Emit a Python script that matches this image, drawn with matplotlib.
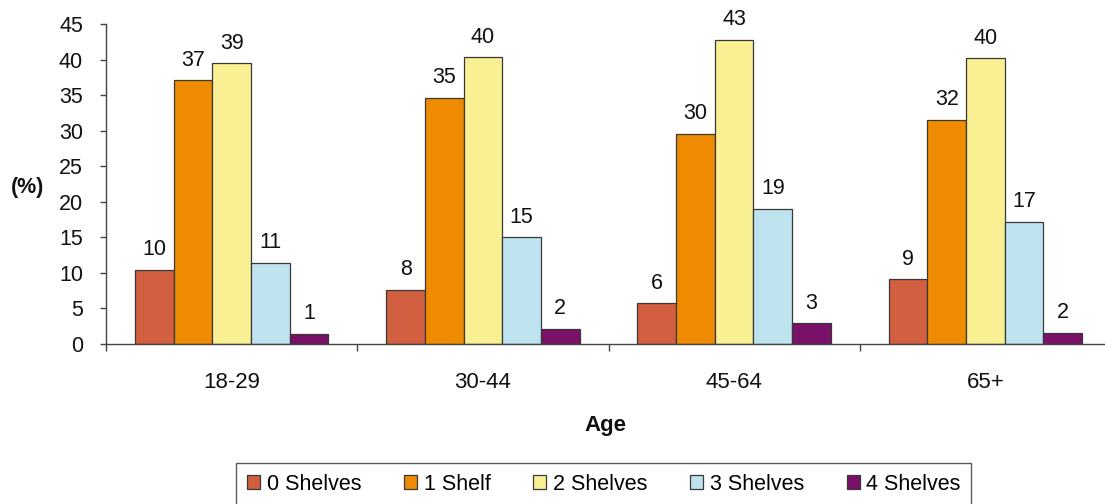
import matplotlib
matplotlib.use("Agg")
import matplotlib.pyplot as plt
import numpy as np

plt.rcParams['font.family'] = ['Liberation Sans', 'DejaVu Sans']

age_groups = ["18-29", "30-44", "45-64", "65+"]
series_names = ["0 Shelves", "1 Shelf", "2 Shelves", "3 Shelves", "4 Shelves"]
shelves_0 = [10.4, 7.6, 5.7, 9.1]
shelves_1 = [37.1, 34.6, 29.6, 31.5]
shelves_2 = [39.45, 40.3, 42.8, 40.2]
shelves_3 = [11.4, 15.0, 19.0, 17.2]
shelves_4 = [1.45, 2.1, 2.9, 1.6]
series_values = [shelves_0, shelves_1, shelves_2, shelves_3, shelves_4]
colors = ["#D15F40", "#EF8B00", "#F8F093", "#BEE3EE", "#7A1168"]

TEXT = "#111111"
AXIS = "#444444"

fig = plt.figure(figsize=(11.05, 5.04), dpi=100)
ax = fig.add_axes([106 / 1105, 1 - 344 / 504, (1111 - 106) / 1105, (344 - 24) / 504])

n = len(series_names)
width = 1 / (n + 1.5)
x = np.arange(len(age_groups))
for i, (name, vals, col) in enumerate(zip(series_names, series_values, colors)):
    pos = x + (i - (n - 1) / 2) * width
    bars = ax.bar(pos, vals, width=width, color=col, edgecolor="#383838",
                  linewidth=0.9, label=name, zorder=2)
    for b, v in zip(bars, vals):
        ax.annotate(f"{round(v):d}", (b.get_x() + b.get_width() / 2, v),
                    xytext=(0, 10.5), textcoords="offset points",
                    ha="center", va="baseline", fontsize=15.5, color=TEXT)

ax.set_xlim(-0.5, len(age_groups) - 0.5)
ax.set_ylim(0, 45)
ax.set_yticks(np.arange(0, 46, 5))
ax.set_xticks(np.arange(-0.5, len(age_groups), 1.0))
ax.set_xticklabels([])
ax.set_xticks(x, minor=True)
ax.set_xticklabels(age_groups, minor=True)

for s in ["top", "right"]:
    ax.spines[s].set_visible(False)
for s in ["left", "bottom"]:
    ax.spines[s].set_color(AXIS)
    ax.spines[s].set_linewidth(1.0)

ax.tick_params(axis="y", which="major", direction="out", length=4.5, width=1,
               color=AXIS, labelsize=15.5, pad=12, labelcolor=TEXT)
ax.tick_params(axis="x", which="major", direction="out", length=5, width=1,
               color=AXIS)
ax.tick_params(axis="x", which="minor", length=0, labelsize=16, pad=20,
               labelcolor=TEXT)

fig.text(28 / 1105, 1 - 188 / 504, "(%)", fontsize=15.5, fontweight="bold",
         ha="center", va="center", color=TEXT)
fig.text(605 / 1105, 1 - 425 / 504, "Age", fontsize=16, fontweight="bold",
         ha="center", va="center", color=TEXT)

leg = fig.legend(loc="upper center", bbox_to_anchor=(604 / 1105, 1 - 463 / 504),
                 ncol=5, fontsize=15.5, frameon=True, fancybox=False,
                 edgecolor="#333333", handlelength=0.6, handleheight=0.6,
                 handletextpad=0.3, columnspacing=2.0, borderpad=0.5,
                 borderaxespad=0)
leg.get_frame().set_linewidth(1.0)

fig.savefig("out.png", dpi=100)
